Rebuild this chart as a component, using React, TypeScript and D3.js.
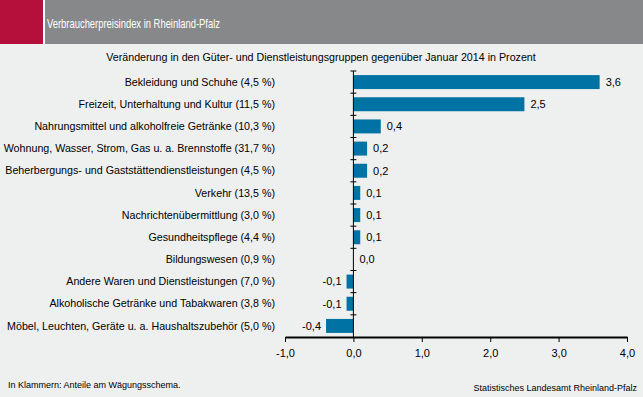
import { useEffect, useRef } from "react";
import * as d3 from "d3";

const categories = [
  "Bekleidung und Schuhe (4,5 %)",
  "Freizeit, Unterhaltung und Kultur (11,5 %)",
  "Nahrungsmittel und alkoholfreie Getränke (10,3 %)",
  "Wohnung, Wasser, Strom, Gas u. a. Brennstoffe (31,7 %)",
  "Beherbergungs- und Gaststättendienstleistungen (4,5 %)",
  "Verkehr (13,5 %)",
  "Nachrichtenübermittlung (3,0 %)",
  "Gesundheitspflege (4,4 %)",
  "Bildungswesen (0,9 %)",
  "Andere Waren und Dienstleistungen (7,0 %)",
  "Alkoholische Getränke und Tabakwaren (3,8 %)",
  "Möbel, Leuchten, Geräte u. a. Haushaltszubehör (5,0 %)",
];
const values = [3.6, 2.5, 0.4, 0.2, 0.2, 0.1, 0.1, 0.1, 0.0, -0.1, -0.1, -0.4];
const xTicks = [-1, 0, 1, 2, 3, 4];

const width = 643;
const height = 397;
const fmt = (v: number, d = 1) => v.toFixed(d).replace(".", ",");

export default function App() {
  const svgRef = useRef<SVGSVGElement>(null);

  useEffect(() => {
    if (!svgRef.current) return;
    const svg = d3.select(svgRef.current);
    svg.selectAll("*").remove();

    // background + header
    svg.append("rect").attr("width", width).attr("height", height).attr("fill", "#eeefef");
    svg.append("rect").attr("width", 43).attr("height", 44).attr("fill", "#b5103c");
    svg.append("rect").attr("x", 43).attr("width", 2).attr("height", 44).attr("fill", "#ffffff");
    svg.append("rect").attr("x", 45).attr("width", width - 45).attr("height", 44).attr("fill", "#878889");
    svg.append("text")
      .attr("x", 47).attr("y", 28)
      .attr("fill", "#fff").attr("font-size", 13.5)
      .attr("textLength", 173).attr("lengthAdjust", "spacingAndGlyphs")
      .text("Verbraucherpreisindex in Rheinland-Pfalz");

    svg.append("text")
      .attr("x", 321).attr("y", 61)
      .attr("text-anchor", "middle").attr("font-size", 10.7)
      .text("Veränderung in den Güter- und Dienstleistungsgruppen gegenüber Januar 2014 in Prozent");

    const x = d3.scaleLinear([-1, 4], [285, 627]);
    const y = d3.scaleBand(categories, [71, 337]).paddingInner(0.37).paddingOuter(0.185);
    const bandTop = d3.scaleBand(categories, [71, 337]);

    // bars
    svg.append("g")
      .selectAll("rect")
      .data(values)
      .join("rect")
      .attr("x", d => x(Math.min(0, d)))
      .attr("y", (_, i) => y(categories[i])!)
      .attr("width", d => Math.abs(x(d) - x(0)))
      .attr("height", y.bandwidth())
      .attr("fill", "#0072a3");

    // value labels
    svg.append("g")
      .attr("font-size", 11)
      .selectAll("text")
      .data(values)
      .join("text")
      .attr("x", d => (d < 0 ? x(d) - 5 : x(d) + 6))
      .attr("y", (_, i) => y(categories[i])! + y.bandwidth() / 2)
      .attr("dy", "0.35em")
      .attr("text-anchor", d => (d < 0 ? "end" : "start"))
      .text(d => fmt(d));

    // category labels
    svg.append("g")
      .attr("font-size", 10.7)
      .selectAll("text")
      .data(categories)
      .join("text")
      .attr("x", 275)
      .attr("y", d => y(d)! + y.bandwidth() / 2)
      .attr("dy", "0.35em")
      .attr("text-anchor", "end")
      .text(d => d);

    // vertical axis at zero
    const yAxis = svg.append("g").attr("stroke", "#000");
    yAxis.append("line")
      .attr("x1", x(0)).attr("x2", x(0))
      .attr("y1", 71).attr("y2", 337);
    yAxis.selectAll("line.t")
      .data(categories)
      .join("line")
      .attr("class", "t")
      .attr("x1", x(0) - 3).attr("x2", x(0) + 3)
      .attr("y1", d => bandTop(d)!).attr("y2", d => bandTop(d)!);

    // x axis
    svg.append("g")
      .attr("transform", "translate(0,337)")
      .call(d3.axisBottom(x).tickValues(xTicks).tickSize(5).tickSizeOuter(0).tickFormat(d => fmt(+d)))
      .call(g => g.select(".domain").attr("stroke-width", 2))
      .call(g => g.selectAll("text").attr("font-size", 11).attr("fill", "#000").attr("dy", "1.1em"));

    // footer
    svg.append("text")
      .attr("x", 8).attr("y", 388).attr("font-size", 9)
      .text("In Klammern: Anteile am Wägungsschema.");
    svg.append("text")
      .attr("x", 637).attr("y", 391).attr("font-size", 9)
      .attr("text-anchor", "end")
      .text("Statistisches Landesamt Rheinland-Pfalz");

    return () => {
      svg.selectAll("*").remove();
    };
  }, []);

  return (
    <svg
      ref={svgRef}
      width={width}
      height={height}
      viewBox={`0 0 ${width} ${height}`}
      style={{
        position: "absolute",
        left: 0,
        top: 0,
        fontFamily: "'Liberation Sans', Arial, sans-serif",
      }}
    />
  );
}
